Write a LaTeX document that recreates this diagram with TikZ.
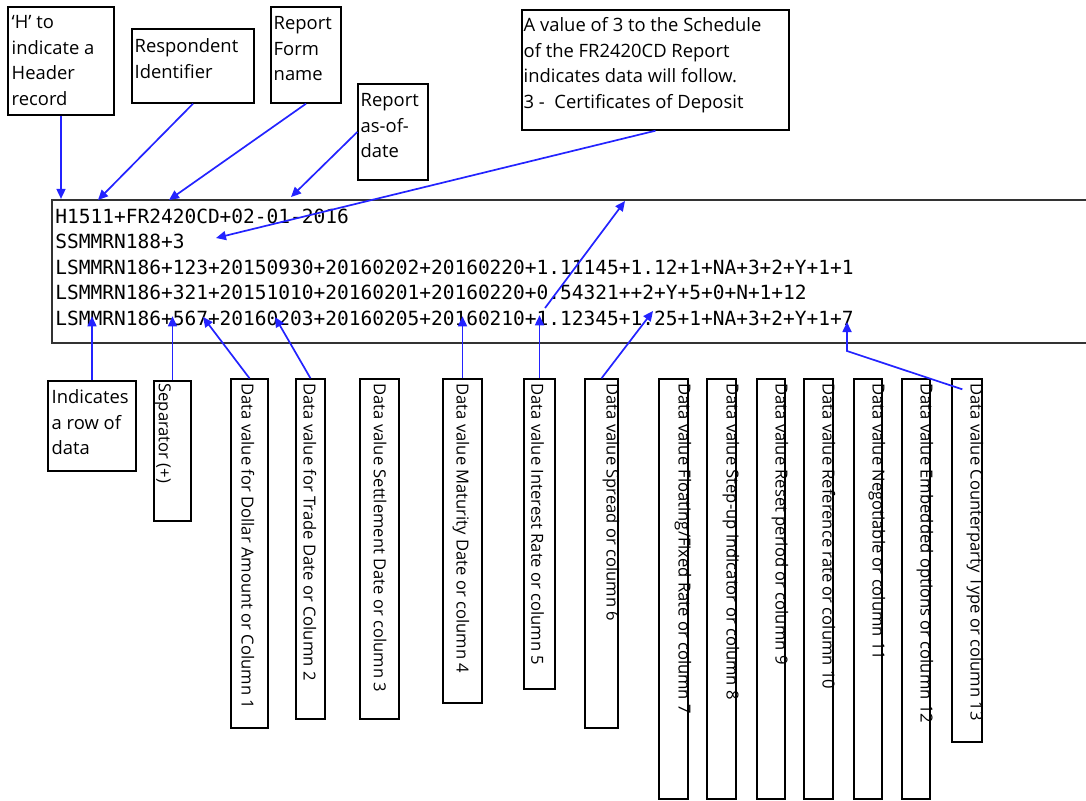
\documentclass[tikz,border=0pt]{standalone}
\usepackage{fontspec}
\setmainfont{Open Sans}
\setmonofont{DejaVu Sans Mono}
\usetikzlibrary{arrows.meta,calc,fit}
\definecolor{linkblue}{RGB}{35,35,255}

\tikzset{
  notebox/.style={draw=black, line width=0.7pt, inner sep=0pt},
  notetext/.style={anchor=north west, inner sep=0pt, align=left, font=\fontsize{9.2}{12.75}\selectfont},
  coltext/.style={anchor=west, rotate=-90, inner sep=0pt, font=\fontsize{8.3}{10}\selectfont},
  datarow/.style={anchor=base west, inner sep=0pt, font=\fontsize{9.75}{12}\ttfamily},
  pointer/.style={draw=linkblue, line width=0.85pt, -{Triangle[length=5pt,width=4.5pt]}}
}

\begin{document}
\begin{tikzpicture}[x=0.5pt, y=-0.5pt]
  \clip (0,0) rectangle (1086,800);

  % the record listing
  \node[fit={(52,200) (1100,343)}, draw=black!80, line width=1.1pt, inner sep=0pt] (data) {};
  \node[datarow] (row1) at (55,223) {H1511+FR2420CD+02-01-2016};
  \node[datarow] (row2) at (55,248.5) {SSMMRN188+3};
  \node[datarow] (row3) at (55,274) {LSMMRN186+123+20150930+20160202+20160220+1.11145+1.12+1+NA+3+2+Y+1+1};
  \node[datarow] (row4) at (55,299.5) {LSMMRN186+321+20151010+20160201+20160220+0.54321++2+Y+5+0+N+1+12};
  \node[datarow] (row5) at (55,325) {LSMMRN186+567+20160203+20160205+20160210+1.12345+1.25+1+NA+3+2+Y+1+7};

  % header notes
  \node[notebox, fit={(8,7) (114,115)}] (hdr) {};
  \node[notetext] at ($(hdr.north west)+(4,9)$) {‘H’ to\\indicate a\\Header\\record};
  \node[notebox, fit={(132,29) (254,103)}] (resp) {};
  \node[notetext] at ($(resp.north west)+(3,10)$) {Respondent\\Identifier};
  \node[notebox, fit={(271,7) (341,103)}] (form) {};
  \node[notetext] at ($(form.north west)+(3,10)$) {Report\\Form\\name};
  \node[notebox, fit={(358,84) (428,180)}] (asof) {};
  \node[notetext] at ($(asof.north west)+(3,10)$) {Report\\as-of-\\date};
  \node[notebox, fit={(522,10) (789,130)}] (sched) {};
  \node[notetext] at ($(sched.north west)+(2,8)$) {A value of 3 to the Schedule\\of the FR2420CD Report\\indicates data will follow.\\3 -\ \ Certificates of Deposit};

  % column notes
  \node[notebox, fit={(48,381) (136,471)}] (rowtype) {};
  \node[notetext] at ($(rowtype.north west)+(4,9)$) {Indicates\\a row of\\data};
  \node[notebox, fit={(154,381) (191,521)}] (sep) {};
  \node[coltext] at (163,383) {Separator (+)};
  \node[notebox, fit={(231,379) (268,728)}] (col1) {};
  \node[coltext] at (248,383) {Data value for Dollar Amount or Column 1};
  \node[notebox, fit={(296,379) (325,719)}] (col2) {};
  \node[coltext] at (310,383) {Data value for Trade Date or Column 2};
  \node[notebox, fit={(360,379) (399,719)}] (col3) {};
  \node[coltext] at (380,383) {Data value Settlement Date or column 3};
  \node[notebox, fit={(443,379) (482,703)}] (col4) {};
  \node[coltext] at (461,383) {Data value Maturity Date or column 4};
  \node[notebox, fit={(524,379) (555,689)}] (col5) {};
  \node[coltext] at (537.5,383) {Data value Interest Rate or column 5};
  \node[notebox, fit={(585,379) (618,728)}] (col6) {};
  \node[coltext] at (611,383) {Data value Spread or column 6};
  \node[notebox, fit={(659,379) (688,799)}] (col7) {};
  \node[coltext] at (683,383) {Data value Floating/Fixed Rate or column 7};
  \node[notebox, fit={(707,379) (736,799)}] (col8) {};
  \node[coltext] at (731,383) {Data value Step-up indicator or column 8};
  \node[notebox, fit={(757,379) (785,799)}] (col9) {};
  \node[coltext] at (780,383) {Data value Reset period or column 9};
  \node[notebox, fit={(804,379) (833,799)}] (col10) {};
  \node[coltext] at (829,383) {Data value Reference rate or column 10};
  \node[notebox, fit={(854,379) (882,799)}] (col11) {};
  \node[coltext] at (877,383) {Data value Negotiable or column 11};
  \node[notebox, fit={(902,379) (930,799)}] (col12) {};
  \node[coltext] at (925,383) {Data value Embedded options or column 12};
  \node[notebox, fit={(952,379) (982,742)}] (col13) {};
  \node[coltext] at (975,383) {Data value Counterparty Type or column 13};

  % pointer ends
  \coordinate (respTip) at (98,200);
  \coordinate (formTip) at (169,200);
  \coordinate (asofTip) at (291,197);
  \coordinate (schedTip) at (216,238);
  \coordinate (col1Tip) at (203,317);
  \coordinate (col2Tip) at (275,317);
  \coordinate (col6Tip) at (653,311);
  \coordinate (strayFrom) at (545,308);
  \coordinate (strayTip) at (625,201);
  \coordinate (col13Bend) at (847,351);

  \draw[pointer] (hdr.south) -- (hdr.south |- data.north);
  \draw[pointer] (resp.south) -- (respTip);
  \draw[pointer] (form.south) -- (formTip);
  \draw[pointer] (asof.west) -- (asofTip);
  \draw[pointer] (sched.south) -- (schedTip);

  \draw[pointer] (rowtype.north) -- ++(0,-64);
  \draw[pointer] (sep.north) -- ++(0,-64);
  \draw[pointer] (col1.north) -- (col1Tip);
  \draw[pointer] (col2.north) -- (col2Tip);
  \draw[pointer] (col4.north) -- ++(0,-62);
  \draw[pointer] (col5.north) -- ++(0,-63);
  \draw[pointer] (strayFrom) -- (strayTip);
  \draw[pointer] (col6.north) -- (col6Tip);
  \draw[pointer] ($(col13.north west)+(11,11)$) -- (col13Bend) -- ++(0,-29);
\end{tikzpicture}
\end{document}
